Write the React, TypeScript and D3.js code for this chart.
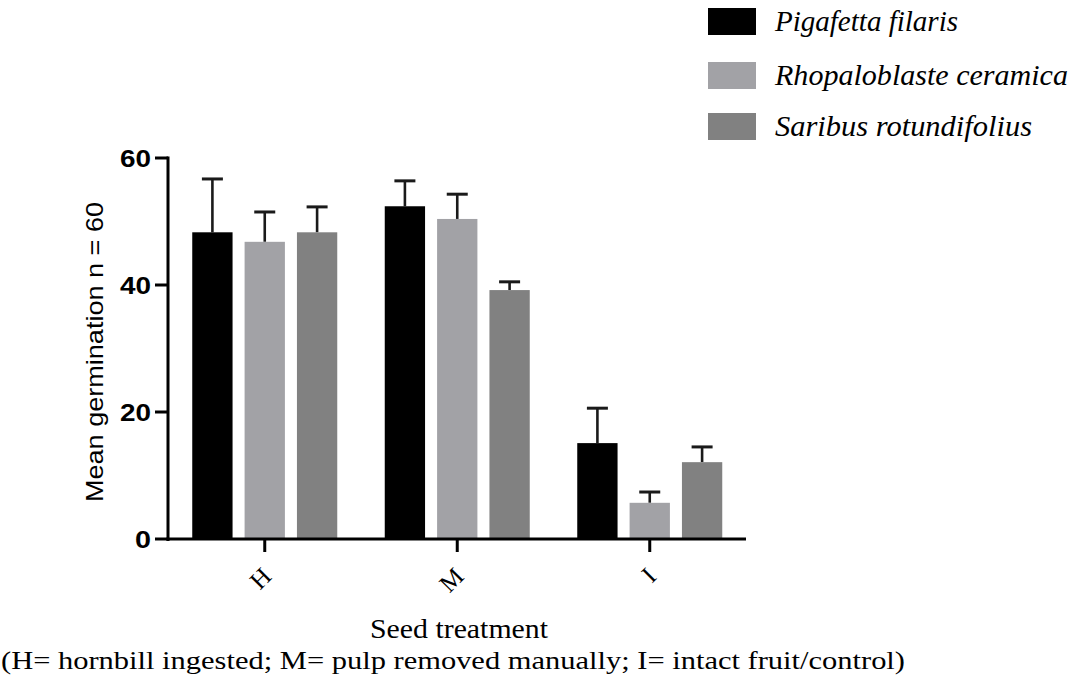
import React from "react";
import * as d3 from "d3";

const categories = ["H", "M", "I"];
const seriesNames = ["Pigafetta filaris", "Rhopaloblaste ceramica", "Saribus rotundifolius"];
const seriesColors = ["#000000", "#a2a2a6", "#818181"];
const meanValues = [
  [48.3, 52.4, 15.1],
  [46.8, 50.4, 5.7],
  [48.3, 39.2, 12.1],
];
const errorValues = [
  [8.4, 4.0, 5.5],
  [4.7, 3.9, 1.7],
  [4.0, 1.3, 2.4],
];
const yTicks = [0, 20, 40, 60];

const SERIF = "'Liberation Serif', 'Times New Roman', Times, serif";
const SANS = "'Liberation Sans', Arial, Helvetica, sans-serif";

export default function App() {
  const W = 1079, H = 686;
  const x0 = d3.scaleBand<string>().domain(categories).range([168.5, 746]).paddingInner(0).paddingOuter(0);
  const x1 = d3.scaleBand<number>().domain([0, 1, 2]).range([-72.5, 72.5]).paddingInner(0.23);
  const y = d3.scaleLinear().domain([0, 60]).range([539, 158]);

  const bars: any[] = [];
  categories.forEach((c, ci) => {
    seriesNames.forEach((s, si) => {
      bars.push({ c, ci, si, v: meanValues[si][ci], e: errorValues[si][ci] });
    });
  });

  return (
    <svg width={W} height={H} style={{ position: "absolute", left: 0, top: 0, background: "#fff" }}>
      <rect x={0} y={0} width={W} height={H} fill="#fff" />
      {bars.map((b, i) => {
        const cx = (x0(b.c) as number) + x0.bandwidth() / 2 + (x1(b.si) as number) + x1.bandwidth() / 2;
        return (
          <g key={"e" + i} stroke="#1a1a1a" strokeWidth={2.6}>
            <line x1={cx} x2={cx} y1={y(b.v)} y2={y(b.v + b.e)} />
            <line x1={cx - 10.5} x2={cx + 10.5} y1={y(b.v + b.e)} y2={y(b.v + b.e)} strokeWidth={3} />
          </g>
        );
      })}
      {bars.map((b, i) => {
        const bx = (x0(b.c) as number) + x0.bandwidth() / 2 + (x1(b.si) as number);
        return (
          <rect key={"b" + i} x={bx} y={y(b.v)} width={x1.bandwidth()} height={y(0) - y(b.v)}
            fill={seriesColors[b.si]} />
        );
      })}
      <line x1={168} x2={168} y1={156.5} y2={541} stroke="#000" strokeWidth={3} />
      {yTicks.map((t) => (
        <g key={"yt" + t}>
          <line x1={155} x2={168} y1={y(t)} y2={y(t)} stroke="#000" strokeWidth={3} />
          <text x={151} y={y(t) + 8.5} textAnchor="end" fontFamily={SANS}
            fontWeight="bold" fontSize={24} textLength={t === 0 ? 16 : 31} lengthAdjust="spacingAndGlyphs">{t}</text>
        </g>
      ))}
      <line x1={166.5} x2={746} y1={539} y2={539} stroke="#000" strokeWidth={3} />
      {categories.map((c) => {
        const cx = (x0(c) as number) + x0.bandwidth() / 2;
        return (
          <g key={"xt" + c}>
            <line x1={cx} x2={cx} y1={539} y2={552} stroke="#000" strokeWidth={3} />
            <text transform={`translate(${cx + 8},${578}) rotate(-45)`} textAnchor="end"
              fontFamily={SERIF} fontSize={25}>{c}</text>
          </g>
        );
      })}
      <text transform={`translate(103,352) rotate(-90)`} textAnchor="middle"
        fontFamily={SANS} fontSize={24} textLength={300} lengthAdjust="spacingAndGlyphs">
        Mean germination n = 60
      </text>
      <text x={459} y={638} textAnchor="middle" fontFamily={SERIF}
        fontSize={27} textLength={178} lengthAdjust="spacingAndGlyphs">Seed treatment</text>
      <text x={1} y={669} fontFamily={SERIF}
        fontSize={26} textLength={904} lengthAdjust="spacingAndGlyphs">
        (H= hornbill ingested; M= pulp removed manually; I= intact fruit/control)
      </text>
      {seriesNames.map((s, i) => {
        const ly = [8, 62, 113][i];
        const lens = [183, 293, 257];
        return (
          <g key={"l" + i}>
            <rect x={708} y={ly} width={48} height={27} fill={seriesColors[i]} />
            <text x={775} y={ly + 23} fontFamily={SERIF} fontStyle="italic"
              fontSize={29} textLength={lens[i]} lengthAdjust="spacingAndGlyphs">{s}</text>
          </g>
        );
      })}
    </svg>
  );
}
